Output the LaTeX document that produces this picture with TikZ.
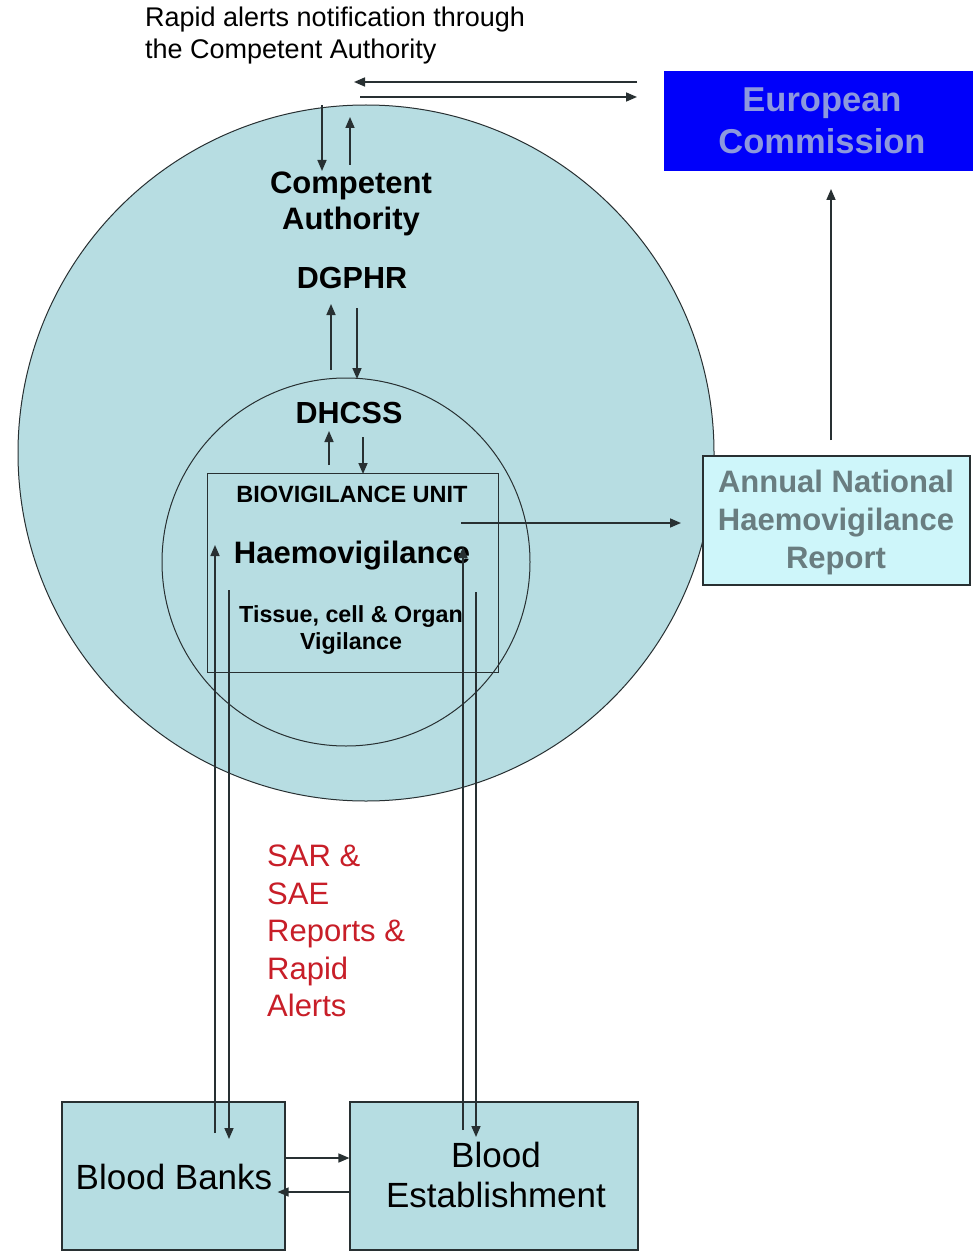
\documentclass[tikz,border=0pt]{standalone}
\usepackage{fontspec}
\setmainfont{Liberation Sans}
\usetikzlibrary{arrows.meta}
\definecolor{circfill}{RGB}{183,221,226}
\definecolor{boxfill}{RGB}{182,221,226}
\definecolor{annfill}{RGB}{206,246,250}
\definecolor{anntext}{RGB}{105,125,128}
\definecolor{ecblue}{RGB}{0,0,250}
\definecolor{ectext}{RGB}{140,152,222}
\definecolor{linegray}{RGB}{40,48,50}
\definecolor{sarred}{RGB}{200,30,40}
\begin{document}
\begin{tikzpicture}[x=1pt,y=-1pt,
  ln/.style={draw=linegray, line width=1.6pt},
  arr/.style={ln, -{Triangle[length=11pt,width=9pt]}},
  lbl/.style={inner sep=0pt, align=center, text=black},
  ring/.style={circle, draw=linegray, line width=1pt, fill=circfill, inner sep=0pt},
  boxn/.style={draw=linegray, line width=1.2pt, inner sep=0pt}
]
\useasboundingbox (0,0) rectangle (972,1257);
\fill[white] (0,0) rectangle (972,1257);

% circles
\node[ring, minimum size=696pt] (outer) at (366,453) {};
\node[ring, minimum size=368pt] (inner) at (346,562) {};
\node[draw=linegray, line width=1pt, minimum width=291pt, minimum height=199pt, inner sep=0pt] (bvu) at (352.5,572.5) {};

% boxes
\node[boxn, fill=ecblue, draw=ecblue, minimum width=307pt, minimum height=98pt] (ecbox) at (818.5,121) {};
\node[lbl, text=ectext, font=\fontsize{34.5}{42}\selectfont\bfseries] (ec) at (822,121) {European\\Commission};

\node[boxn, fill=annfill, minimum width=267pt, minimum height=129pt] (annbox) at (836.5,520.5) {};
\node[lbl, text=anntext, font=\fontsize{31}{38}\selectfont\bfseries] (ann) at (836,522) {Annual National\\Haemovigilance\\Report};

\node[boxn, fill=boxfill, minimum width=223pt, minimum height=148pt] (bb) at (173.5,1176) {};
\node[boxn, fill=boxfill, minimum width=288pt, minimum height=148pt] (be) at (494,1176) {};
\node[lbl, font=\fontsize{35}{40}\selectfont] (bbt) at (174,1177) {Blood Banks};
\node[lbl, font=\fontsize{35}{40}\selectfont] (bet) at (496,1175) {Blood\\Establishment};

% texts
\node[lbl, align=left, anchor=north west, font=\fontsize{27}{32}\selectfont] (rapid) at (145,7) {Rapid alerts notification through\\the Competent Authority};
\node[lbl, font=\fontsize{31}{36}\selectfont\bfseries] (ca) at (351,204) {Competent\\Authority};
\node[lbl, font=\fontsize{30.5}{36}\selectfont\bfseries] (dgphr) at (352,278) {DGPHR};
\node[lbl, font=\fontsize{30.5}{36}\selectfont\bfseries] (dhcss) at (349,413) {DHCSS};
\node[lbl, font=\fontsize{23.5}{27}\selectfont\bfseries] (bvut) at (352,494) {BIOVIGILANCE UNIT};
\node[lbl, font=\fontsize{31}{36}\selectfont\bfseries] (haemo) at (352,556) {Haemovigilance};
\node[lbl, font=\fontsize{23.3}{27}\selectfont\bfseries] (tissue) at (351,630) {Tissue, cell \& Organ\\Vigilance};
\node[lbl, align=left, anchor=west, text=sarred, font=\fontsize{31}{37.5}\selectfont] (sar) at (267,931) {SAR \&\\SAE\\Reports \&\\Rapid\\Alerts};

% coordinates
\coordinate (h1a) at (637,82);  \coordinate (h1b) at (354,82);
\coordinate (h2a) at (360,97);  \coordinate (h2b) at (637,97);
\coordinate (c1a) at (322,105); \coordinate (c1b) at (322,171);
\coordinate (c2a) at (350,165); \coordinate (c2b) at (350,117);
\coordinate (d1a) at (331,370); \coordinate (d1b) at (331,304);
\coordinate (d2a) at (357,308); \coordinate (d2b) at (357,379);
\coordinate (e1a) at (329,465); \coordinate (e1b) at (329,431);
\coordinate (e2a) at (363,437); \coordinate (e2b) at (363,474);
\coordinate (r1a) at (461,523); \coordinate (r1b) at (681,523);
\coordinate (u1a) at (831,440); \coordinate (u1b) at (831,189);
\coordinate (l1a) at (215,1133); \coordinate (l1b) at (215,545);
\coordinate (l2a) at (229,590);  \coordinate (l2b) at (229,1139);
\coordinate (k1a) at (463,1130); \coordinate (k1b) at (463,547);
\coordinate (k2a) at (476,592);  \coordinate (k2b) at (476,1137);

\draw[arr] (h1a) -- (h1b);
\draw[arr] (h2a) -- (h2b);
\draw[arr] (c1a) -- (c1b);
\draw[arr] (c2a) -- (c2b);
\draw[arr] (d1a) -- (d1b);
\draw[arr] (d2a) -- (d2b);
\draw[arr] (e1a) -- (e1b);
\draw[arr] (e2a) -- (e2b);
\draw[arr] (r1a) -- (r1b);
\draw[arr] (u1a) -- (u1b);
\draw[arr] (l1a) -- (l1b);
\draw[arr] (l2a) -- (l2b);
\draw[arr] (k1a) -- (k1b);
\draw[arr] (k2a) -- (k2b);
\draw[arr] ([yshift=18pt]bb.east) -- ([yshift=18pt]be.west);
\draw[arr] ([yshift=-16pt]be.west) -- ([xshift=-8pt,yshift=-16pt]bb.east);
\end{tikzpicture}
\end{document}
